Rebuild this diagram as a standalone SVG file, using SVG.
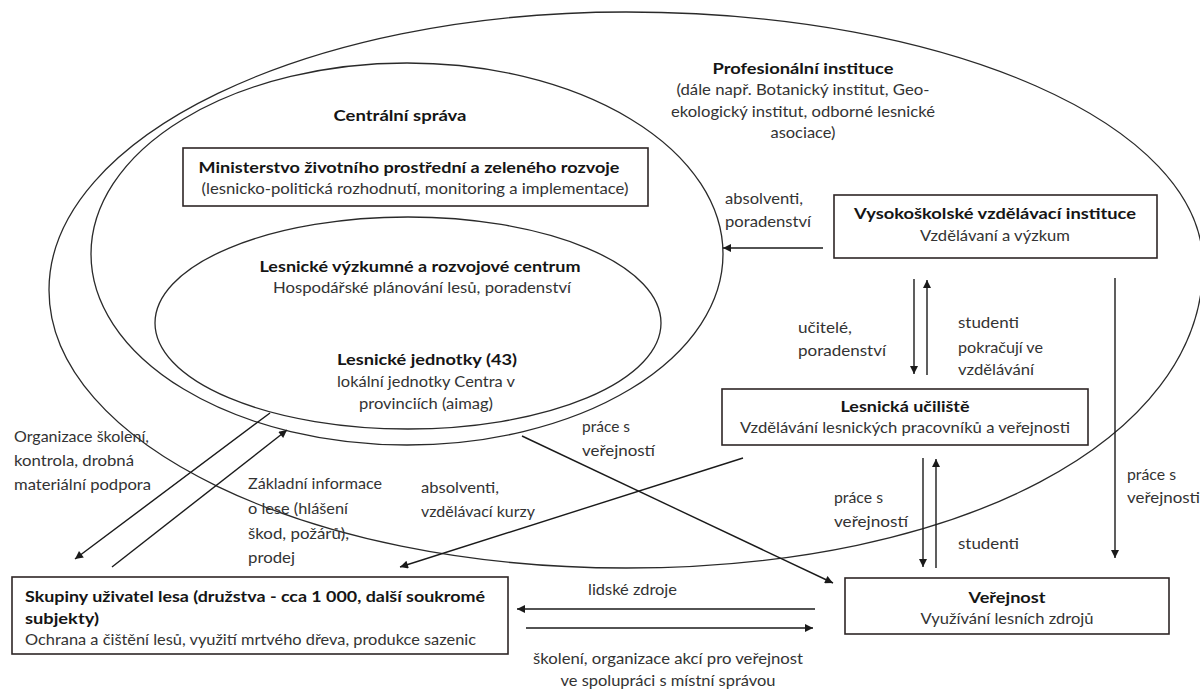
<svg xmlns="http://www.w3.org/2000/svg" width="1200" height="691" viewBox="0 0 1200 691">
<defs>
<marker id="ah" viewBox="0 0 10 10" refX="10" refY="5" markerWidth="10" markerHeight="8" markerUnits="userSpaceOnUse" orient="auto">
<path d="M0,0 L10,5 L0,10 z" fill="#1a1a1a"/>
</marker>
<style>
.ell{fill:none;stroke:#2a2a2a;stroke-width:1.3}
.box{fill:#fff;stroke:#2e2626;stroke-width:1.6}
.con{fill:none;stroke:#1a1a1a;stroke-width:1.4;marker-end:url(#ah)}
text{font-family:Lato,"Open Sans","Liberation Sans",sans-serif;font-size:15px;fill:#333}
.b{font-weight:bold;fill:#151515}
.c{text-anchor:middle}
</style>
</defs>
<rect width="1200" height="691" fill="#fff"/>

<g id="profesionalni-instituce">
<path class="ell" d="M626,12 C950,12 1203,125 1203,265 C1203,440 960,568 626,568 C307,568 49,443.5 49,290 C49,136.5 307,12 626,12 Z"/>
<text class="b c" x="803" y="74" textLength="181" lengthAdjust="spacingAndGlyphs">Profesionální instituce</text>
<text class="c" x="803" y="95" textLength="253" lengthAdjust="spacingAndGlyphs">(dále např. Botanický institut, Geo-</text>
<text class="c" x="803" y="117" textLength="264" lengthAdjust="spacingAndGlyphs">ekologický institut, odborné lesnické</text>
<text class="c" x="803" y="138" textLength="65" lengthAdjust="spacingAndGlyphs">asociace)</text>
</g>

<g id="centralni-sprava">
<ellipse class="ell" cx="407" cy="254" rx="316" ry="191"/>
<text class="b c" x="400" y="121" textLength="133" lengthAdjust="spacingAndGlyphs">Centrální správa</text>
</g>

<g id="lesnicke-centrum">
<ellipse class="ell" cx="408" cy="323" rx="253" ry="106"/>
<text class="b c" x="420" y="272" textLength="321" lengthAdjust="spacingAndGlyphs">Lesnické výzkumné a rozvojové centrum</text>
<text class="c" x="422" y="293" textLength="298" lengthAdjust="spacingAndGlyphs">Hospodářské plánování lesů, poradenství</text>
</g>

<g id="lesnicke-jednotky">
<text class="b c" x="427" y="365" textLength="180" lengthAdjust="spacingAndGlyphs">Lesnické jednotky (43)</text>
<text class="c" x="426" y="387" textLength="178" lengthAdjust="spacingAndGlyphs">lokální jednotky Centra v</text>
<text class="c" x="426" y="409" textLength="134" lengthAdjust="spacingAndGlyphs">provinciích (aimag)</text>
</g>

<g id="connectors">
<line class="con" x1="823" y1="248" x2="723" y2="248"/>
<line class="con" x1="914" y1="279" x2="914" y2="374"/>
<line class="con" x1="927" y1="375" x2="927" y2="280"/>
<line class="con" x1="923" y1="458" x2="923" y2="567"/>
<line class="con" x1="936" y1="568" x2="936" y2="459"/>
<line class="con" x1="1115" y1="278" x2="1115" y2="558"/>
<line class="con" x1="815" y1="609" x2="517" y2="609"/>
<line class="con" x1="526" y1="628" x2="813" y2="628"/>
<line class="con" x1="522" y1="436" x2="833" y2="583"/>
<line class="con" x1="743" y1="458" x2="400" y2="567"/>
<line class="con" x1="270" y1="413" x2="75" y2="559"/>
<line class="con" x1="112" y1="567" x2="287" y2="430"/>
<text x="725" y="204" textLength="78" lengthAdjust="spacingAndGlyphs">absolventi,</text>
<text x="725" y="227" textLength="86" lengthAdjust="spacingAndGlyphs">poradenství</text>
<text x="798" y="333" textLength="54" lengthAdjust="spacingAndGlyphs">učitelé,</text>
<text x="798" y="356" textLength="88" lengthAdjust="spacingAndGlyphs">poradenství</text>
<text x="958" y="328" textLength="61" lengthAdjust="spacingAndGlyphs">studenti</text>
<text x="958" y="353" textLength="85" lengthAdjust="spacingAndGlyphs">pokračují ve</text>
<text x="958" y="375" textLength="76" lengthAdjust="spacingAndGlyphs">vzdělávání</text>
<text x="834" y="503" textLength="49" lengthAdjust="spacingAndGlyphs">práce s</text>
<text x="834" y="527" textLength="74" lengthAdjust="spacingAndGlyphs">veřejností</text>
<text x="958" y="549" textLength="61" lengthAdjust="spacingAndGlyphs">studenti</text>
<text x="1127" y="480" textLength="49" lengthAdjust="spacingAndGlyphs">práce s</text>
<text x="1127" y="503" textLength="73" lengthAdjust="spacingAndGlyphs">veřejnosti</text>
<text x="582" y="432" textLength="48" lengthAdjust="spacingAndGlyphs">práce s</text>
<text x="582" y="456" textLength="73" lengthAdjust="spacingAndGlyphs">veřejností</text>
<text x="14" y="442" textLength="135" lengthAdjust="spacingAndGlyphs">Organizace školení,</text>
<text x="14" y="466" textLength="120" lengthAdjust="spacingAndGlyphs">kontrola, drobná</text>
<text x="14" y="490" textLength="137" lengthAdjust="spacingAndGlyphs">materiální podpora</text>
<text x="248" y="489" textLength="134" lengthAdjust="spacingAndGlyphs">Základní informace</text>
<text x="248" y="514" textLength="100" lengthAdjust="spacingAndGlyphs">o lese (hlášení</text>
<text x="248" y="539" textLength="101" lengthAdjust="spacingAndGlyphs">škod, požárů),</text>
<text x="248" y="563" textLength="47" lengthAdjust="spacingAndGlyphs">prodej</text>
<text x="421" y="493" textLength="78" lengthAdjust="spacingAndGlyphs">absolventi,</text>
<text x="421" y="517" textLength="114" lengthAdjust="spacingAndGlyphs">vzdělávací kurzy</text>
<text x="588" y="595" textLength="89" lengthAdjust="spacingAndGlyphs">lidské zdroje</text>
<text class="c" x="668" y="664" textLength="270" lengthAdjust="spacingAndGlyphs">školení, organizace akcí pro veřejnost</text>
<text class="c" x="668" y="686" textLength="215" lengthAdjust="spacingAndGlyphs">ve spolupráci s místní správou</text>
</g>

<g id="ministerstvo">
<rect class="box" x="183" y="148" width="465" height="58"/>
<text class="b c" x="409" y="173" textLength="421" lengthAdjust="spacingAndGlyphs">Ministerstvo životního prostřední a zeleného rozvoje</text>
<text class="c" x="415" y="194" textLength="427" lengthAdjust="spacingAndGlyphs">(lesnicko-politická rozhodnutí, monitoring a implementace)</text>
</g>

<g id="vysokoskolske-instituce">
<rect class="box" x="834" y="195" width="323" height="63"/>
<text class="b c" x="995" y="219" textLength="282" lengthAdjust="spacingAndGlyphs">Vysokoškolské vzdělávací instituce</text>
<text class="c" x="995" y="241" textLength="150" lengthAdjust="spacingAndGlyphs">Vzdělávaní a výzkum</text>
</g>

<g id="lesnicka-uciliste">
<rect class="box" x="722" y="389" width="366" height="56"/>
<text class="b c" x="905" y="412" textLength="129" lengthAdjust="spacingAndGlyphs">Lesnická učiliště</text>
<text class="c" x="905" y="433" textLength="330" lengthAdjust="spacingAndGlyphs">Vzdělávání lesnických pracovníků a veřejnosti</text>
</g>

<g id="verejnost">
<rect class="box" x="845" y="578" width="324" height="56"/>
<text class="b c" x="1007" y="603" textLength="77" lengthAdjust="spacingAndGlyphs">Veřejnost</text>
<text class="c" x="1007" y="624" textLength="173" lengthAdjust="spacingAndGlyphs">Využívání lesních zdrojů</text>
</g>

<g id="skupiny-uzivatelu">
<rect class="box" x="12" y="577" width="496" height="77"/>
<text class="b" x="25" y="602" textLength="460" lengthAdjust="spacingAndGlyphs">Skupiny uživatel lesa (družstva - cca 1 000, další soukromé</text>
<text class="b" x="25" y="624" textLength="74" lengthAdjust="spacingAndGlyphs">subjekty)</text>
<text x="25" y="645" textLength="451" lengthAdjust="spacingAndGlyphs">Ochrana a čištění lesů, využití mrtvého dřeva, produkce sazenic</text>
</g>
</svg>
